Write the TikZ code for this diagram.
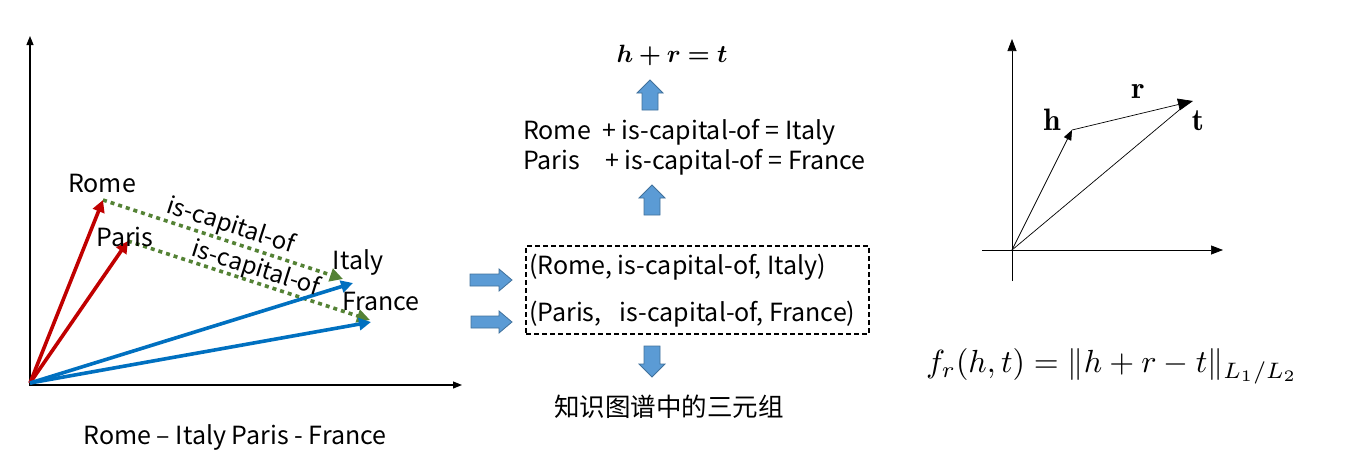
\documentclass[tikz,border=0pt]{standalone}
\usepackage{fontspec}
\usepackage{amsmath,bm}
\newfontfamily\cjk{Noto Sans CJK SC}
\usetikzlibrary{arrows.meta,positioning}
\definecolor{brick}{RGB}{192,0,0}
\definecolor{sea}{RGB}{0,112,192}
\definecolor{moss}{RGB}{84,130,53}
\definecolor{sky}{RGB}{91,155,213}
\definecolor{skyedge}{RGB}{65,113,156}
\tikzset{
  axis/.style={line width=1.1pt,-{Triangle[length=9pt,width=7pt]}},
  thinaxis/.style={line width=0.7pt,-{Triangle[length=12pt,width=9pt]}},
  entity/.style={line width=3.6pt,draw=#1,-{Triangle[length=12pt,width=12pt]}},
  entity/.default=sea,
  relation/.style={line width=3.6pt,draw=moss,dash pattern=on 4pt off 4pt,
    -{Triangle[length=13pt,width=13pt]}},
  word/.style={font=\cjk\fontsize{25}{28}\selectfont,inner sep=1pt},
  relword/.style={font=\cjk\fontsize{24}{28}\selectfont,inner sep=1pt},
  mathlbl/.style={scale=#1,transform shape,inner sep=1pt},
  vec/.style={line width=0.7pt,-{Triangle[length=#1,width=0.8*#1]}},
  vec/.default=10pt,
  % block arrow, length/shaft
  pics/fatarrow/.style args={#1/#2}{code={
    \draw[draw=skyedge,fill=sky,line width=0.8pt]
      (0,{-#2/2}) -- ({#1-13},{-#2/2}) -- ({#1-13},{-#2/2-5}) -- (#1,0)
      -- ({#1-13},{#2/2+5}) -- ({#1-13},{#2/2}) -- (0,{#2/2}) -- cycle;
  }},
}
\begin{document}
\begin{tikzpicture}[x=1pt,y=-1pt]
  \useasboundingbox (0,0) rectangle (1365,458);

  % left: embedding space
  \coordinate (O) at (30,383);
  \coordinate (rome) at (103,200);
  \coordinate (paris) at (128,241);
  \coordinate (italy) at (353,283);
  \coordinate (france) at (371,322);
  \coordinate (romeend) at (343,279);
  \coordinate (parisend) at (370,320);
  \draw[axis] (30,385) -- (30,36);
  \draw[axis] (29,385) -- (462,385);
  \draw[relation] (rome) -- (romeend);
  \draw[relation] (paris) -- (parisend);
  \draw[entity=brick] (O) -- (rome);
  \draw[entity=brick] (O) -- (paris);
  \draw[entity] (O) -- (italy);
  \draw[entity] (O) -- (france);
  \node[word] (romelbl) at (102,183) {Rome};
  \node[word] (parislbl) at (125,237) {Paris};
  \node[word] (italylbl) at (358,262) {Italy};
  \node[word] (francelbl) at (381,301) {France};
  \node[relword,rotate=-18] (rel1) at (231,226) {is-capital-of};
  \node[relword,rotate=-17.5] (rel2) at (256,269) {is-capital-of};
  \node[word] (caption) at (235,437) {Rome – Italy Paris - France};

  % middle: triples
  \node[draw,dashed,line width=1.1pt,dash pattern=on 5pt off 3pt,
    minimum width=343pt,minimum height=88pt] (triples) at (697.5,290) {};
  \node[word,anchor=west] (t1) at (528,267) {(Rome, is-capital-of, Italy)};
  \node[word,anchor=west] (t2) at (528,314) {(Paris,\enspace\ is-capital-of, France)};
  \pic at (470,280) {fatarrow=42/12};
  \pic at (471,322) {fatarrow=41/12};
  \pic[rotate=-90] at (652,346) {fatarrow=31/16};
  \node[word,font=\cjk\fontsize{25.5}{28}\selectfont] (kg) at (669,407) {知识图谱中的三元组};
  \pic[rotate=90] at (652,215) {fatarrow=30/16};
  \node[word,anchor=west] (eq1) at (522,132) {Rome\ \ + is-capital-of = Italy};
  \node[word,anchor=west] (eq2) at (522,162) {Paris\quad + is-capital-of = France};
  \pic[rotate=90] at (650,110) {fatarrow=30/16};
  \node[mathlbl=2.5] (hrt) at (672,55) {$\bm{h+r=t}$};

  % right: TransE
  \coordinate (o) at (1012,250);
  \coordinate (h) at (1072,130);
  \coordinate (t) at (1193,101);
  \draw[thinaxis] (1012,281) -- (1012,39);
  \draw[thinaxis] (982,250) -- (1223,250);
  \draw[vec] (o) -- (h);
  \draw[vec=15pt] (h) -- (t);
  \draw[line width=0.7pt] (o) -- (1184,106);
  \node[mathlbl=3.1] (hlbl) at (1052,120) {$\mathbf{h}$};
  \node[mathlbl=3.1] (rlbl) at (1138,92) {$\mathbf{r}$};
  \node[mathlbl=3.1] (tlbl) at (1198,121) {$\mathbf{t}$};
  \node[mathlbl=3.2] (score) at (1112,366)
    {$f_r(h,t)=\|h+r-t\|_{L_1/L_2}$};
\end{tikzpicture}
\end{document}
